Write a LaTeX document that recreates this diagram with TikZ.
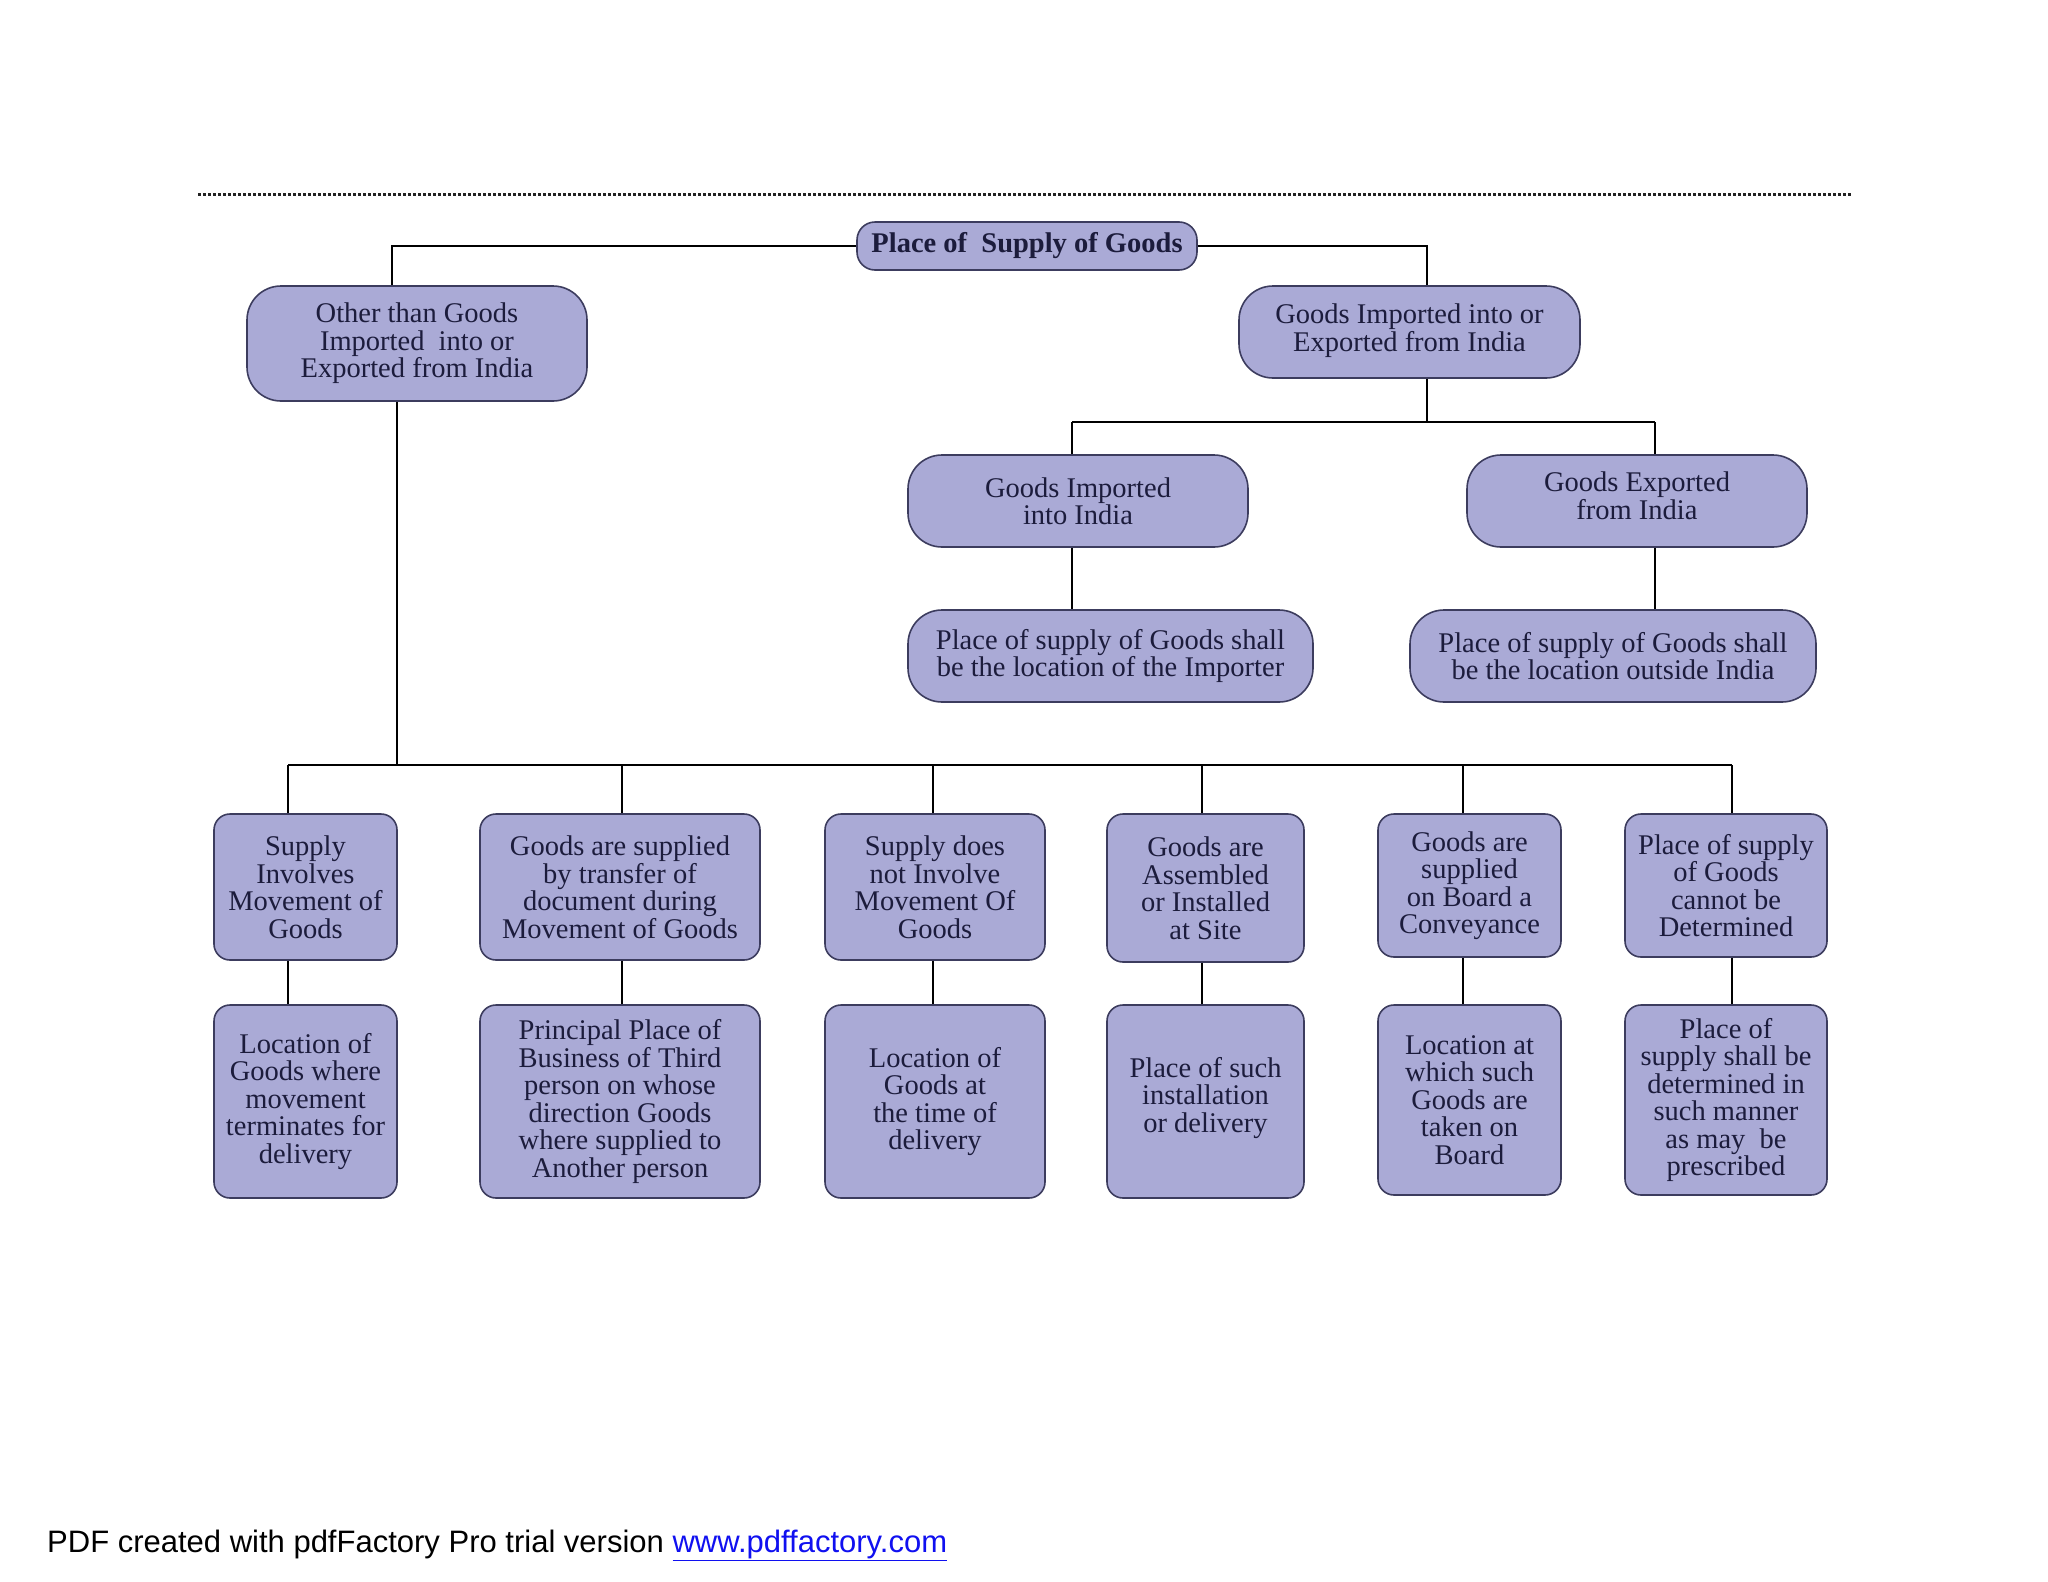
\documentclass[tikz,border=0pt]{standalone}
\usepackage{fontspec}
\setmainfont{Liberation Serif}
\newfontfamily\footfont{Liberation Sans}
\definecolor{boxfill}{HTML}{AAAAD6}
\definecolor{boxline}{HTML}{3C3C5E}
\definecolor{boxtext}{HTML}{1C1C3C}
\definecolor{linkblue}{HTML}{1010F0}
\definecolor{dotcol}{HTML}{222222}
\begin{document}
\begin{tikzpicture}[x=1pt,y=-1pt,
  base/.style={draw=boxline, line width=1.6pt, fill=boxfill, text=boxtext,
    align=center, inner sep=0pt, font=\fontsize{28.5}{27.5}\selectfont},
  pill/.style={base, rounded corners=34pt},
  topbox/.style={base, rounded corners=18pt, font=\bfseries\fontsize{28.5}{27.5}\selectfont},
  box/.style={base, rounded corners=16pt},
  conn/.style={line width=2pt, black},
  dotline/.style={line width=3pt, dotcol, dash pattern=on 2.6pt off 2.4pt}]
\useasboundingbox (0,0) rectangle (2048,1582);

% dotted rule
\coordinate (d1) at (198,194);
\coordinate (d2) at (1852,194);
\draw[dotline] (d1) -- (d2);

% top levels
\node[topbox, minimum width=340pt, minimum height=48pt] (T) at (1027,246) {Place of~ Supply of Goods};
\node[pill, minimum width=340pt, minimum height=115pt] (L) at (417,343.5) {Other than Goods\\Imported~ into or\\Exported from India};
\node[pill, minimum width=341pt, minimum height=92pt] (R) at (1409.5,332) {Goods Imported into or\\Exported from India\\[-19pt]};
\node[pill, minimum width=340pt, minimum height=92pt] (GI) at (1078,501) {Goods Imported\\into India};
\node[pill, minimum width=340pt, minimum height=92pt] (GE) at (1637,501) {Goods Exported\\from India\\[-17pt]};
\node[pill, minimum width=405pt, minimum height=92pt] (PI) at (1110.5,656) {Place of supply of Goods shall\\be the location of the Importer};
\node[pill, minimum width=406pt, minimum height=92pt] (PE) at (1613,656) {Place of supply of Goods shall\\be the location outside India};

% row 1
\node[box, minimum width=183pt, minimum height=146pt] (A1) at (305.5,887) {Supply\\Involves\\Movement of\\Goods};
\node[box, minimum width=280pt, minimum height=146pt] (B1) at (620,887) {Goods are supplied\\by transfer of\\document during\\Movement of Goods};
\node[box, minimum width=220pt, minimum height=146pt] (C1) at (935,887) {Supply does\\not Involve\\Movement Of\\Goods};
\node[box, minimum width=197pt, minimum height=148pt] (D1) at (1205.5,888) {Goods are\\Assembled\\or Installed\\at Site};
\node[box, minimum width=183pt, minimum height=143pt] (E1) at (1469.5,885.5) {Goods are\\supplied\\on Board a\\Conveyance};
\node[box, minimum width=202pt, minimum height=143pt] (F1) at (1726,885.5) {Place of supply\\of Goods\\cannot be\\Determined};

% row 2
\node[box, minimum width=183pt, minimum height=193pt] (A2) at (305.5,1101.5) {Location of\\Goods where\\movement\\terminates for\\delivery};
\node[box, minimum width=280pt, minimum height=193pt] (B2) at (620,1101.5) {Principal Place of\\Business of Third\\person on whose\\direction Goods\\where supplied to\\Another person};
\node[box, minimum width=220pt, minimum height=193pt] (C2) at (935,1101.5) {Location of\\Goods at\\the time of\\delivery};
\node[box, minimum width=197pt, minimum height=193pt] (D2) at (1205.5,1101.5) {Place of such\\installation\\or delivery\\[-14pt]};
\node[box, minimum width=183pt, minimum height=190pt] (E2) at (1469.5,1100) {Location at\\which such\\Goods are\\taken on\\Board};
\node[box, minimum width=202pt, minimum height=190pt] (F2) at (1726,1100) {Place of\\supply shall be\\determined in\\such manner\\as may~ be\\prescribed};

% connectors: top
\coordinate (jL) at (392,246);
\coordinate (jR) at (1427,246);
\draw[conn] (T.west) -- (T.west -| jL) -- (L.north -| jL);
\draw[conn] (T.east) -- (T.east -| jR) -- (R.north -| jR);

% right branch
\coordinate (jR2) at (1427,422);
\coordinate (jGI) at (1072,422);
\coordinate (jGE) at (1655,422);
\draw[conn] (R.south -| jR2) -- (jR2);
\draw[conn] (jGI) -- (jGE);
\draw[conn] (jGI) -- (GI.north -| jGI);
\draw[conn] (jGE) -- (GE.north -| jGE);
\draw[conn] (GI.south -| jGI) -- (PI.north -| jGI);
\draw[conn] (GE.south -| jGE) -- (PE.north -| jGE);

% left branch bus
\coordinate (jL2) at (397,765);
\coordinate (bA) at (288,765);
\coordinate (bB) at (622,765);
\coordinate (bC) at (933,765);
\coordinate (bD) at (1202,765);
\coordinate (bE) at (1463,765);
\coordinate (bF) at (1732,765);
\draw[conn] (L.south -| jL2) -- (jL2);
\draw[conn] (bA) -- (bF);
\foreach \n in {A,B,C,D,E,F}{
  \draw[conn] (b\n) -- (\n1.north -| b\n);
  \draw[conn] (\n1.south -| b\n) -- (\n2.north -| b\n);
}

% footer
\node[anchor=base west, inner sep=0pt, font=\footfont\fontsize{31}{36}\selectfont] (foot) at (47,1552)
  {PDF created with pdfFactory Pro trial version \textcolor{linkblue}{\underline{www.pdffactory.com}}};
\end{tikzpicture}
\end{document}
